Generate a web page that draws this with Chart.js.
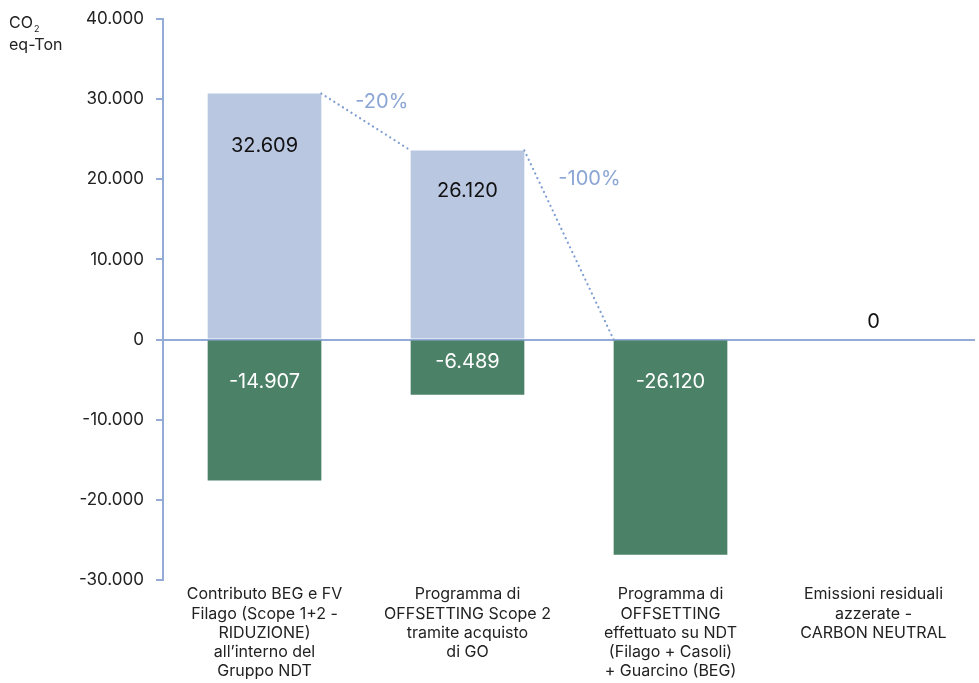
<!DOCTYPE html>
<html>
<head>
<meta charset="utf-8">
<script src="https://cdn.jsdelivr.net/npm/chart.js@4.4.1/dist/chart.umd.min.js"></script>
<style>
    html, body { margin: 0; padding: 0; background: #fff; }
    #wrap { width: 979px; height: 683px; position: relative; }
</style>
</head>
<body>
<div id="wrap"><canvas id="chart"></canvas></div>
<script>
// categories (multi-line)
const categories = [
    ["Contributo BEG e FV", "Filago (Scope 1+2 -", "RIDUZIONE)", "all\u2019interno del", "Gruppo NDT"],
    ["Programma di", "OFFSETTING Scope 2", "tramite acquisto", "di GO"],
    ["Programma di", "OFFSETTING", "effettuato su NDT", "(Filago + Casoli)", "+ Guarcino (BEG)"],
    ["Emissioni residuali", "azzerate -", "CARBON NEUTRAL"]
];
// bar heights as drawn in the picture
const positiveValues = [30700, 23600, 0, 0];
const negativeValues = [-17600, -6870, -26840, 0];
// printed value labels
const positiveLabels = ["32.609", "26.120", "", "0"];
const negativeLabels = ["-14.907", "-6.489", "-26.120", ""];
const stepLabels = ["-20%", "-100%"];

const FONT = "Inter, 'Liberation Sans', sans-serif";
const AXIS_BLUE = "#93abd6";

function fmt(v) {
    const s = String(Math.abs(v)).replace(/\B(?=(\d{3})+(?!\d))/g, ".");
    return (v < 0 ? "-" : "") + s;
}

const overlay = {
    id: "overlay",
    afterDatasetsDraw(chart) {
        const ctx = chart.ctx;
        const y = chart.scales.y;
        const zeroY = y.getPixelForValue(0);
        const pos = chart.getDatasetMeta(0).data;
        const neg = chart.getDatasetMeta(1).data;
        ctx.save();

        // value labels
        ctx.font = "20px " + FONT;
        ctx.textAlign = "center";
        ctx.textBaseline = "middle";
        pos.forEach((bar, i) => {
            const t = positiveLabels[i];
            if (!t) return;
            const h = zeroY - bar.y;
            ctx.fillStyle = "#111";
            if (h < 5) {
                ctx.fillText(t, bar.x, zeroY - 18);
            } else {
                ctx.fillText(t, bar.x, bar.y + h * 0.215);
            }
        });
        neg.forEach((bar, i) => {
            const t = negativeLabels[i];
            if (!t) return;
            const h = bar.y - zeroY;
            ctx.fillStyle = "#fff";
            ctx.fillText(t, bar.x, zeroY + Math.min(42, h / 2 - 5));
        });

        // dotted connectors with step labels
        const links = [
            [{ x: pos[0].x + pos[0].width / 2, y: pos[0].y }, { x: pos[1].x - pos[1].width / 2, y: pos[1].y }],
            [{ x: pos[1].x + pos[1].width / 2, y: pos[1].y }, { x: neg[2].x - neg[2].width / 2, y: zeroY }]
        ];
        ctx.strokeStyle = "#7f9dd1";
        ctx.lineWidth = 2.2;
        ctx.lineCap = "round";
        ctx.setLineDash([0.1, 5]);
        links.forEach(([a, b], i) => {
            ctx.beginPath();
            ctx.moveTo(a.x, a.y);
            ctx.lineTo(b.x, b.y);
            ctx.stroke();
            ctx.save();
            ctx.setLineDash([]);
            ctx.fillStyle = "#8ba5d4";
            ctx.font = "20px " + FONT;
            ctx.textAlign = "left";
            ctx.fillText(stepLabels[i], a.x + 34, a.y + (b.y - a.y) * 0.15);
            ctx.restore();
        });
        ctx.setLineDash([]);

        // axis title CO2 eq-Ton
        ctx.fillStyle = "#222";
        ctx.textAlign = "left";
        ctx.textBaseline = "alphabetic";
        ctx.font = "16px " + FONT;
        ctx.fillText("CO", 9, 28);
        const w = ctx.measureText("CO").width;
        ctx.font = "9px " + FONT;
        ctx.fillText("2", 9 + w + 1, 32);
        ctx.font = "16px " + FONT;
        ctx.fillText("eq-Ton", 9, 50);
        ctx.restore();
    }
};

new Chart(document.getElementById("chart"), {
    type: "bar",
    data: {
        labels: categories,
        datasets: [
            {
                label: "Emissioni",
                data: positiveValues,
                backgroundColor: "#bac7e1",
                barPercentage: 0.56,
                categoryPercentage: 1
            },
            {
                label: "Riduzioni",
                data: negativeValues,
                backgroundColor: "#4b8166",
                barPercentage: 0.56,
                categoryPercentage: 1
            }
        ]
    },
    options: {
        responsive: true,
        maintainAspectRatio: false,
        animation: false,
        layout: { padding: { top: 19, right: 4, left: 0, bottom: 0 } },
        plugins: {
            legend: { display: false },
            tooltip: { enabled: false }
        },
        scales: {
            x: {
                stacked: true,
                grid: { display: false, drawTicks: false },
                border: { display: false },
                ticks: {
                    color: "#222",
                    font: { family: FONT, size: 16, lineHeight: 1.2 },
                    maxRotation: 0,
                    autoSkip: false,
                    padding: 5
                },
                afterFit(scale) { scale.height = 103; }
            },
            y: {
                stacked: true,
                min: -30000,
                max: 40000,
                border: { display: true, color: AXIS_BLUE, width: 2 },
                grid: {
                    drawOnChartArea: true,
                    color: (c) => (c.tick && c.tick.value === 0 ? AXIS_BLUE : "transparent"),
                    lineWidth: 2,
                    tickColor: AXIS_BLUE,
                    tickLength: 7
                },
                ticks: {
                    stepSize: 10000,
                    color: "#222",
                    font: { family: FONT, size: 17 },
                    padding: 12,
                    callback: (v) => fmt(v)
                },
                afterFit(scale) {
                    scale.width = 163;
                    scale.paddingTop = 0;
                    scale.paddingBottom = 0;
                }
            }
        }
    },
    plugins: [overlay]
});
</script>
</body>
</html>
